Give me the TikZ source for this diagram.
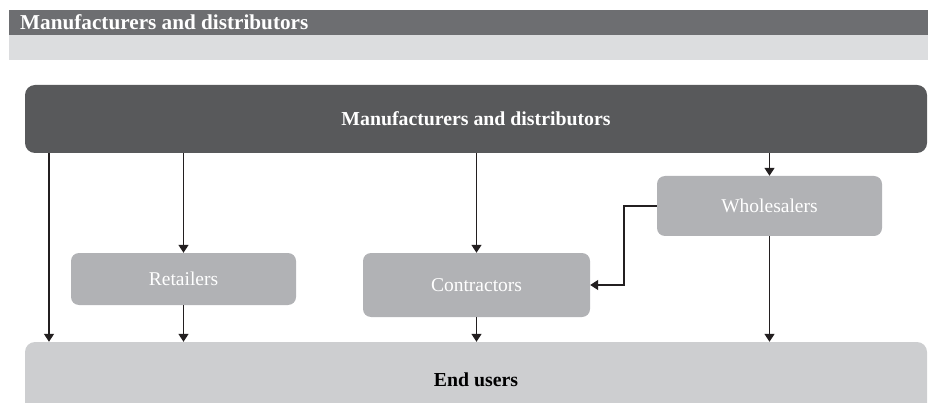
\documentclass[tikz,border=0pt]{standalone}
\usepackage{fontspec}
\setmainfont{Liberation Serif}
\usetikzlibrary{arrows.meta,calc}
\definecolor{hdrdark}{HTML}{6D6E71}
\definecolor{hdrlight}{HTML}{DCDDDF}
\definecolor{topbox}{HTML}{58595B}
\definecolor{midbox}{HTML}{B1B2B5}
\definecolor{endbox}{HTML}{CDCED0}
\definecolor{linec}{HTML}{231F20}
\tikzset{
  bigbox/.style={rectangle, rounded corners=10pt, inner sep=0pt, font=\fontsize{19.8}{22}\selectfont\bfseries},
  midnode/.style={rectangle, rounded corners=8pt, fill=midbox, inner sep=0pt, text=white, font=\fontsize{19.5}{22}\selectfont},
  arr/.style={draw=linec, line width=1.4pt, -{Triangle[width=10pt,length=8pt]}},
}
\begin{document}
\begin{tikzpicture}[x=1pt,y=-1pt]
\useasboundingbox (0,0) rectangle (928,403);
\clip (0,0) rectangle (928,403);
% header
\fill[hdrdark] (9,10) rectangle (930,35);
\fill[hdrlight] (9,35) rectangle (930,60);
\node[anchor=base west, inner sep=0pt, text=white, font=\fontsize{21.2}{24}\selectfont\bfseries] (hdr) at (20,30) {Manufacturers and distributors};
% boxes
\node[bigbox, fill=topbox, text=white, minimum width=902pt, minimum height=68pt] (main) at (476,119) {Manufacturers and distributors};
\node[bigbox, fill=endbox, text=black, minimum width=902pt, minimum height=76pt] (end) at (476,380) {End users};
\node[midnode, minimum width=225pt, minimum height=60pt] (whol) at (769.5,206) {Wholesalers};
\node[midnode, minimum width=225pt, minimum height=52pt] (retail) at (183.5,279) {Retailers};
\node[midnode, minimum width=227pt, minimum height=64pt] (contr) at (476.5,285) {Contractors};
\coordinate (lx) at (49,0);
% connectors
\draw[arr] (main.south -| lx) -- (end.north -| lx);
\draw[arr] (main.south -| retail.north) -- (retail.north);
\draw[arr] (retail.south) -- (end.north -| retail.south);
\draw[arr] (main.south -| contr.north) -- (contr.north);
\draw[arr] (contr.south) -- (end.north -| contr.south);
\draw[arr] (main.south -| whol.north) -- (whol.north);
\draw[arr] (whol.south) -- (end.north -| whol.south);
\draw[arr] (whol.west) -- ++(-33,0) |- (contr.east);
\end{tikzpicture}
\end{document}
